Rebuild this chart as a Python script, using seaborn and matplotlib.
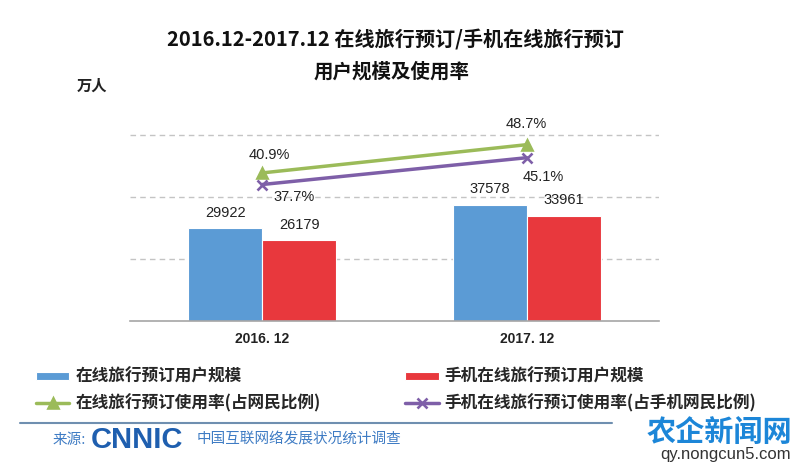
import pandas as pd
import matplotlib

matplotlib.use("Agg")
import matplotlib.pyplot as plt
from matplotlib.lines import Line2D
import seaborn as sns

periods = ["2016. 12", "2017. 12"]
online_users = [29922, 37578]
mobile_users = [26179, 33961]
online_rate = [40.9, 48.7]
mobile_rate = [37.7, 45.1]

bar_series = ["在线旅行预订用户规模", "手机在线旅行预订用户规模"]
rate_series = ["在线旅行预订使用率(占网民比例)", "手机在线旅行预订使用率(占手机网民比例)"]

title_lines = ["2016.12-2017.12 在线旅行预订/手机在线旅行预订", "用户规模及使用率"]
grid_levels = [20000, 40000, 60000]

BLUE = "#5B9BD5"
RED = "#E8383D"
GREEN = "#9BBB59"
PURPLE = "#7E5FA8"
CJK = ["Noto Sans CJK SC", "DejaVu Sans"]
NUM = ["Liberation Sans", "DejaVu Sans"]

# label offsets (points) for the rate labels: [series][period]
rate_offsets = [[(5, 13), (0, 15)], [(23, -9), (12, -14)]]


def main() -> None:
    sns.set_theme(style="white")
    plt.rcParams["font.family"] = CJK
    plt.rcParams["axes.unicode_minus"] = False

    bars = pd.DataFrame(
        {
            "period": periods * 2,
            "users": online_users + mobile_users,
            "series": [bar_series[0]] * len(periods) + [bar_series[1]] * len(periods),
        }
    )
    rates = pd.DataFrame(
        {
            "period": periods * 2,
            "rate": online_rate + mobile_rate,
            "series": [rate_series[0]] * len(periods) + [rate_series[1]] * len(periods),
        }
    )

    fig = plt.figure(figsize=(8, 4.71), dpi=100)
    ax = fig.add_axes([0.1625, 0.3185, 0.661, 0.5265])

    for level in grid_levels:
        ax.axhline(level, linestyle=(0, (4, 3)), color="#C4C4C4", linewidth=1.0, zorder=0)

    sns.barplot(
        data=bars,
        x="period",
        y="users",
        hue="series",
        palette=[BLUE, RED],
        saturation=1,
        width=0.56,
        edgecolor="white",
        linewidth=0.8,
        ax=ax,
        zorder=2,
    )
    bar_handles, bar_labels = ax.get_legend_handles_labels()
    ax.get_legend().remove()

    for container in ax.containers:
        ax.bar_label(container, fmt="%d", padding=6, fontsize=10.5, family=NUM, color="#222222")

    ax2 = ax.twinx()
    sns.pointplot(
        data=rates,
        x="period",
        y="rate",
        hue="series",
        palette=[GREEN, PURPLE],
        markers=["^", "x"],
        linestyles=["-", "-"],
        errorbar=None,
        markersize=7,
        linewidth=2.5,
        ax=ax2,
    )
    line_handles, line_labels = ax2.get_legend_handles_labels()
    ax2.get_legend().remove()

    for s, values in enumerate([online_rate, mobile_rate]):
        for i, v in enumerate(values):
            ax2.annotate(
                f"{v}%",
                (i, v),
                xytext=rate_offsets[s][i],
                textcoords="offset points",
                ha="center",
                va="center",
                fontsize=10.5,
                family=NUM,
                color="#222222",
            )

    ax.set_ylim(0, 80000)
    ax2.set_ylim(0, 68.5)
    ax.set_xlim(-0.5, len(periods) - 0.5)
    ax.grid(False)
    ax2.grid(False)
    ax.tick_params(axis="y", length=0, labelleft=False)
    ax2.tick_params(axis="y", length=0, labelright=False)
    ax.set_xticks(range(len(periods)))
    ax.set_xticklabels(periods, fontsize=10, fontweight="bold", color="#222222", family=NUM)
    ax.tick_params(axis="x", length=0, pad=8)
    ax.set_xticks([-0.5, 0.5, 1.5], minor=True)
    ax.tick_params(axis="x", which="minor", length=5, direction="in", color="#A6A6A6", width=1)
    ax.set_xlabel("")
    ax.set_ylabel("")
    ax2.set_ylabel("")
    for side in ["left", "right", "top"]:
        ax.spines[side].set_visible(False)
    ax.spines["bottom"].set_color("#A6A6A6")
    ax.spines["bottom"].set_linewidth(1.2)
    for spine in ax2.spines.values():
        spine.set_visible(False)

    fig.text(0.494, 1 - 40 / 471, title_lines[0], ha="center", va="center",
             fontsize=14.5, fontweight="bold", color="#111111")
    fig.text(0.49, 1 - 72 / 471, title_lines[1], ha="center", va="center",
             fontsize=14, fontweight="bold", color="#111111")
    fig.text(0.115, 1 - 86 / 471, "万人", ha="center", va="center",
             fontsize=11, fontweight="bold", color="#222222")

    handles = [bar_handles[0], line_handles[0], bar_handles[1], line_handles[1]]
    labels = [bar_labels[0], line_labels[0], bar_labels[1], line_labels[1]]
    fig.legend(
        handles,
        labels,
        ncol=2,
        loc="center left",
        bbox_to_anchor=(0.045, 1 - 390 / 471),
        frameon=False,
        prop={"family": CJK, "size": 12, "weight": "bold"},
        handlelength=2.0,
        handleheight=0.3,
        handletextpad=0.35,
        columnspacing=5.1,
        labelspacing=0.45,
        borderaxespad=0,
        borderpad=0,
    )

    fig.add_artist(Line2D([0.025, 0.765], [1 - 423 / 471] * 2, color="#6F8FB0",
                          linewidth=1.5, transform=fig.transFigure))
    fig.text(0.066, 1 - 440 / 471, "来源:", ha="left", va="center",
             fontsize=10.5, color="#3F7CC4")
    fig.text(0.113, 1 - 440 / 471, "CNNIC", ha="left", va="center",
             fontsize=21, fontweight="bold", color="#1F5FAF", family=NUM)
    fig.text(0.246, 1 - 440 / 471, "中国互联网络发展状况统计调查", ha="left", va="center",
             fontsize=10.5, color="#3F7CC4")

    fig.text(0.99, 1 - 432 / 471, "农企新闻网", ha="right", va="center",
             fontsize=21, fontweight="bold", color="#1C86D8")
    fig.text(0.988, 1 - 454 / 471, "qy.nongcun5.com", ha="right", va="center",
             fontsize=12, color="#333333", family=NUM)

    fig.savefig("out.png", dpi=100, facecolor="white")


if __name__ == "__main__":
    main()
